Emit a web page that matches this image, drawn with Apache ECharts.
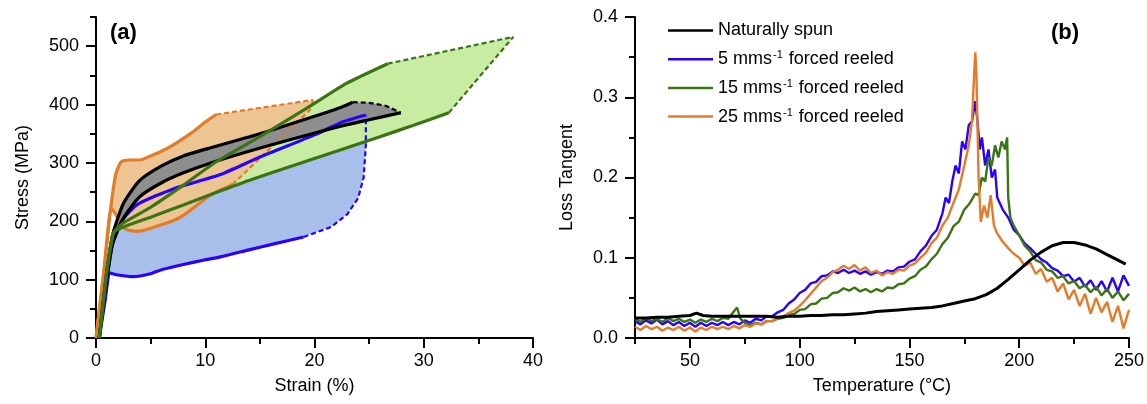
<!DOCTYPE html>
<html>
<head>
<meta charset="utf-8">
<script src="https://cdn.jsdelivr.net/npm/echarts@6/dist/echarts.min.js"></script>
<style>
  html, body { margin: 0; padding: 0; background: #fff; }
  #chart { width: 1147px; height: 404px; }
</style>
</head>
<body>
<div id="chart"></div>
<script>
// ---- panel (a): stress-strain envelopes, [strain %, stress MPa] ----
var blueLow = [[0.3, 0], [0.8, 60], [1.3, 111], [2, 108], [3.4, 105], [5, 110], [6, 117], [8, 126], [10, 134], [11.4, 139], [14, 151], [16, 160], [19, 173]];
var blueDash = [[19, 173], [21.5, 190], [23, 212], [24, 240], [24.5, 275], [24.7, 330], [24.7, 382]];
var blueUp = [[0.3, 0], [1, 100], [1.5, 160], [2.2, 195], [3, 215], [4, 231], [7, 255], [11.4, 280], [15, 310], [20, 348], [22.4, 369], [24.7, 382]];

var greenLow = [[0.3, 0], [1, 115], [1.6, 180], [2.5, 190], [5, 207], [8, 228], [10.5, 246], [14, 270], [18, 295], [22, 320], [26, 345], [29, 364], [32.3, 386]];
var greenDashLow = [[32.3, 386], [38.2, 516]];
var greenUp = [[0.3, 0], [1, 115], [1.6, 180], [2.5, 197], [5, 224], [8, 262], [11, 302], [15, 345], [20, 402], [23, 437], [26.7, 470]];
var greenDashUp = [[26.7, 470], [38.2, 516]];

var orangeLow = [[0, 0], [0.7, 110], [1.4, 222], [1.8, 212], [2.3, 195], [2.8, 186], [4, 183], [5, 188], [6.8, 199], [8, 210], [10.5, 245], [12.5, 263]];
var orangeDashLow = [[12.5, 263], [19.6, 391], [19.9, 408]];
var orangeUp = [[0, 0], [0.7, 110], [1.3, 215], [1.8, 280], [2.3, 302], [3, 305], [4, 305], [5, 312], [6, 320], [7, 330], [8, 342], [9, 355], [10, 370], [11, 383]];
var orangeDashUp = [[11, 383], [19.9, 408]];

var blackLow = [[0.3, 0], [0.9, 90], [1.5, 160], [2.5, 205], [4, 242], [6, 266], [8, 283], [10.5, 300], [14, 320], [18, 341], [22.4, 363], [25, 374], [27.9, 386]];
var blackUp = [[0.3, 0], [0.9, 100], [1.5, 175], [2.5, 230], [4, 270], [6, 295], [8, 312], [10.5, 326], [15, 350], [20, 380], [22.4, 395], [23.5, 404]];
var blackDash = [[23.5, 404], [25, 403], [26.5, 398], [27.9, 386]];

// ---- panel (b): loss tangent vs temperature, [°C, tan delta] ----
var natural = [[25, 0.025], [30, 0.025], [35, 0.026], [40, 0.026], [45, 0.027], [50, 0.028], [53, 0.031], [56, 0.028], [60, 0.027], [65, 0.027], [70, 0.027], [75, 0.027], [80, 0.027], [85, 0.027], [90, 0.026], [95, 0.027], [100, 0.027], [105, 0.028], [110, 0.028], [115, 0.029], [120, 0.029], [125, 0.030], [130, 0.031], [135, 0.033], [140, 0.034], [145, 0.035], [150, 0.036], [155, 0.037], [160, 0.038], [165, 0.040], [170, 0.043], [175, 0.046], [180, 0.049], [185, 0.054], [190, 0.062], [195, 0.073], [200, 0.085], [205, 0.097], [210, 0.107], [215, 0.115], [220, 0.119], [225, 0.119], [230, 0.116], [235, 0.111], [240, 0.104], [245, 0.097], [248.5, 0.092]];

var reeled5 = [[25, 0.021], [27.5, 0.017], [30, 0.022], [32.5, 0.018], [35, 0.023], [37.5, 0.017], [40, 0.021], [42.5, 0.016], [45, 0.020], [47.5, 0.015], [50, 0.019], [52.5, 0.014], [55, 0.019], [57.5, 0.015], [60, 0.019], [62.5, 0.016], [65, 0.020], [67.5, 0.016], [70, 0.020], [72.5, 0.017], [75, 0.022], [77.5, 0.019], [80, 0.024], [82.5, 0.022], [85, 0.027], [87.5, 0.027], [90, 0.032], [92.5, 0.035], [95, 0.043], [97.5, 0.048], [100, 0.056], [102.5, 0.060], [105, 0.068], [107.5, 0.070], [110, 0.077], [112.5, 0.078], [115, 0.083], [117.5, 0.081], [120, 0.085], [122.5, 0.081], [125, 0.084], [127.5, 0.080], [130, 0.083], [132.5, 0.079], [135, 0.082], [137.5, 0.080], [140, 0.084], [142.5, 0.083], [145, 0.088], [147.5, 0.089], [150, 0.095], [152.5, 0.098], [155, 0.108], [157.5, 0.115], [160, 0.127], [162.5, 0.135], [165, 0.155], [166.5, 0.175], [168, 0.168], [169.5, 0.195], [171, 0.215], [172.5, 0.205], [174, 0.245], [175.5, 0.235], [177, 0.265], [178.5, 0.270], [180, 0.295], [181, 0.270], [182, 0.235], [183, 0.250], [184.5, 0.215], [186, 0.235], [187.5, 0.200], [189, 0.210], [190, 0.175], [192.5, 0.160], [195, 0.150], [197.5, 0.135], [200, 0.128], [202.5, 0.118], [205, 0.112], [207.5, 0.105], [210, 0.098], [212.5, 0.094], [215, 0.087], [217.5, 0.084], [220, 0.077], [222.5, 0.079], [225, 0.070], [227.5, 0.075], [230, 0.064], [232.5, 0.072], [235, 0.060], [237.5, 0.071], [240, 0.058], [242.5, 0.075], [245, 0.058], [247.5, 0.078], [250, 0.065]];

var reeled15 = [[25, 0.024], [27.5, 0.020], [30, 0.025], [32.5, 0.021], [35, 0.024], [37.5, 0.020], [40, 0.025], [42.5, 0.021], [45, 0.024], [47.5, 0.020], [50, 0.023], [52.5, 0.019], [55, 0.023], [57.5, 0.020], [60, 0.024], [62.5, 0.021], [65, 0.025], [67.5, 0.024], [70, 0.033], [71.5, 0.038], [73, 0.024], [75, 0.019], [77.5, 0.016], [80, 0.019], [82.5, 0.017], [85, 0.021], [87.5, 0.021], [90, 0.024], [92.5, 0.025], [95, 0.029], [97.5, 0.030], [100, 0.035], [102.5, 0.036], [105, 0.042], [107.5, 0.043], [110, 0.049], [112.5, 0.050], [115, 0.056], [117.5, 0.057], [120, 0.062], [122.5, 0.059], [125, 0.063], [127.5, 0.058], [130, 0.061], [132.5, 0.057], [135, 0.061], [137.5, 0.058], [140, 0.063], [142.5, 0.062], [145, 0.067], [147.5, 0.068], [150, 0.074], [152.5, 0.077], [155, 0.085], [157.5, 0.089], [160, 0.098], [162.5, 0.105], [165, 0.117], [167.5, 0.125], [170, 0.139], [172.5, 0.145], [175, 0.160], [177.5, 0.168], [180, 0.180], [181.5, 0.178], [183, 0.200], [184.5, 0.195], [186, 0.225], [187.5, 0.215], [189, 0.240], [190.5, 0.225], [192, 0.245], [193.5, 0.235], [194.5, 0.250], [195, 0.175], [196, 0.150], [197.5, 0.140], [200, 0.128], [202.5, 0.115], [205, 0.108], [207.5, 0.097], [210, 0.094], [212.5, 0.085], [215, 0.083], [217.5, 0.075], [220, 0.077], [222.5, 0.068], [225, 0.071], [227.5, 0.062], [230, 0.066], [232.5, 0.057], [235, 0.064], [237.5, 0.053], [240, 0.061], [242.5, 0.050], [245, 0.058], [247.5, 0.047], [250, 0.055]];

var reeled25 = [[25, 0.014], [27.5, 0.010], [30, 0.015], [32.5, 0.011], [35, 0.014], [37.5, 0.009], [40, 0.013], [42.5, 0.010], [45, 0.014], [47.5, 0.009], [50, 0.013], [52.5, 0.008], [55, 0.013], [57.5, 0.010], [60, 0.014], [62.5, 0.011], [65, 0.014], [67.5, 0.011], [70, 0.015], [72.5, 0.012], [75, 0.016], [77.5, 0.014], [80, 0.018], [82.5, 0.017], [85, 0.021], [87.5, 0.021], [90, 0.025], [92.5, 0.027], [95, 0.031], [97.5, 0.034], [100, 0.040], [102.5, 0.047], [105, 0.055], [107.5, 0.063], [110, 0.071], [112.5, 0.075], [115, 0.082], [117.5, 0.085], [120, 0.090], [122.5, 0.086], [125, 0.091], [127.5, 0.084], [130, 0.088], [132.5, 0.081], [135, 0.084], [137.5, 0.078], [140, 0.082], [142.5, 0.080], [145, 0.085], [147.5, 0.084], [150, 0.090], [152.5, 0.093], [155, 0.100], [157.5, 0.106], [160, 0.118], [162.5, 0.125], [165, 0.140], [167.5, 0.150], [170, 0.168], [172.5, 0.185], [175, 0.215], [177, 0.240], [178.5, 0.270], [179.5, 0.330], [180, 0.356], [180.5, 0.330], [181.5, 0.200], [182.5, 0.145], [184, 0.165], [185.5, 0.150], [187, 0.178], [188.5, 0.140], [190, 0.130], [192.5, 0.120], [195, 0.112], [197.5, 0.105], [200, 0.100], [202.5, 0.090], [205, 0.094], [207.5, 0.080], [210, 0.086], [212.5, 0.070], [215, 0.075], [217.5, 0.058], [220, 0.068], [222.5, 0.048], [225, 0.060], [227.5, 0.040], [230, 0.055], [232.5, 0.030], [235, 0.050], [237.5, 0.032], [240, 0.045], [242.5, 0.020], [245, 0.040], [247.5, 0.012], [250, 0.035]];

// tick values
var strainTicks = [0, 10, 20, 30, 40];
var stressMajor = [0, 100, 200, 300, 400, 500];
var stressMinor = [50, 150, 250, 350, 450, 550];
var tempMajor = [50, 100, 150, 200, 250];
var tempMinor = [25, 75, 125, 175, 225];

var FONT = 'Liberation Sans, Arial, sans-serif';
var BLUE = '#2a00ff', GREEN = '#3b7414', ORANGE = '#e27c2a';

function polygon(lower, closing, upper) {
  return lower.concat(closing, upper.slice().reverse());
}

function fillSeries(poly, color) {
  return {
    type: 'custom',
    xAxisIndex: 0,
    yAxisIndex: 0,
    silent: true,
    data: [poly[0]],
    renderItem: function (params, api) {
      var pts = poly.map(function (p) { return api.coord(p); });
      return {
        type: 'polygon',
        shape: { points: pts },
        style: { fill: color }
      };
    }
  };
}

function curve(data, color, dashed) {
  return {
    type: 'line',
    xAxisIndex: 0,
    yAxisIndex: 0,
    data: data,
    symbol: 'none',
    smooth: dashed ? false : 0.2,
    silent: true,
    lineStyle: {
      color: color,
      width: dashed ? 2.2 : 3.2,
      type: dashed ? [5, 3] : 'solid'
    }
  };
}

function tanLine(name, data, color, w) {
  return {
    name: name,
    type: 'line',
    xAxisIndex: 1,
    yAxisIndex: 2,
    data: data,
    symbol: 'none',
    lineStyle: { color: color, width: w || 2.4 },
    itemStyle: { color: color }
  };
}

var axisBase = {
  axisLine: { lineStyle: { color: '#000', width: 2 } },
  axisTick: { length: 10, lineStyle: { color: '#000', width: 2 } },
  axisLabel: { color: '#000', fontSize: 18, fontFamily: FONT },
  splitLine: { show: false },
  nameTextStyle: { color: '#000', fontSize: 18, fontFamily: FONT },
  nameLocation: 'middle'
};

function merge(a, b) {
  var o = JSON.parse(JSON.stringify(a));
  for (var k in b) {
    if (o[k] && typeof o[k] === 'object' && !Array.isArray(o[k]) && typeof b[k] === 'object' && !Array.isArray(b[k])) {
      o[k] = Object.assign(o[k], b[k]);
    } else {
      o[k] = b[k];
    }
  }
  return o;
}

var chart = echarts.init(document.getElementById('chart'), null, { renderer: 'canvas' });

var option = {
  animation: false,
  textStyle: { fontFamily: FONT },
  title: [
    { text: '(a)', left: 110, top: 22, padding: 0, textStyle: { fontSize: 22, fontWeight: 'bold', color: '#000', fontFamily: FONT } },
    { text: '(b)', left: 1051, top: 22, padding: 0, textStyle: { fontSize: 22, fontWeight: 'bold', color: '#000', fontFamily: FONT } }
  ],
  legend: {
    data: ['Naturally spun', '5 mms-1 forced reeled', '15 mms-1 forced reeled', '25 mms-1 forced reeled'],
    orient: 'vertical',
    left: 668,
    top: 21,
    padding: 0,
    icon: 'rect',
    itemWidth: 45,
    itemHeight: 2.5,
    itemGap: 9.7,
    formatter: function (name) {
      return name.replace('-1', '{sup|-1}');
    },
    textStyle: {
      color: '#000',
      fontSize: 18,
      lineHeight: 19,
      fontFamily: FONT,
      rich: {
        sup: { fontSize: 11, verticalAlign: 'top', lineHeight: 11, padding: [0, 1, 0, 1] }
      }
    }
  },
  grid: [
    { left: 96, right: 614, top: 17, bottom: 66 },
    { left: 635, right: 15, top: 17, bottom: 66 }
  ],
  xAxis: [
    merge(axisBase, {
      type: 'value', gridIndex: 0, min: 0, max: 40, interval: 10,
      minorTick: { show: true, splitNumber: 2, length: 6, lineStyle: { color: '#000', width: 2 } },
      axisLabel: { color: '#000', fontSize: 18, fontFamily: FONT, margin: 14, customValues: strainTicks },
      name: 'Strain (%)', nameGap: 39
    }),
    merge(axisBase, {
      type: 'value', gridIndex: 1, min: 25, max: 250,
      axisTick: { length: 10, lineStyle: { color: '#000', width: 2 }, customValues: tempMajor },
      axisLabel: { color: '#000', fontSize: 18, fontFamily: FONT, margin: 14, customValues: tempMajor },
      name: 'Temperature (°C)', nameGap: 39
    }),
    {
      type: 'value', gridIndex: 1, min: 25, max: 250, position: 'bottom',
      axisLine: { show: false },
      axisLabel: { show: false },
      splitLine: { show: false },
      axisTick: { length: 6, lineStyle: { color: '#000', width: 2 }, customValues: tempMinor }
    }
  ],
  yAxis: [
    merge(axisBase, {
      type: 'value', gridIndex: 0, min: 0, max: 550,
      axisTick: { length: 10, lineStyle: { color: '#000', width: 2 }, customValues: stressMajor },
      axisLabel: { color: '#000', fontSize: 18, fontFamily: FONT, margin: 17, customValues: stressMajor },
      name: 'Stress (MPa)', nameGap: 64
    }),
    {
      type: 'value', gridIndex: 0, min: 0, max: 550, position: 'left',
      axisLine: { show: false },
      axisLabel: { show: false },
      splitLine: { show: false },
      axisTick: { length: 6, lineStyle: { color: '#000', width: 2 }, customValues: stressMinor }
    },
    merge(axisBase, {
      type: 'value', gridIndex: 1, min: 0, max: 0.4, interval: 0.1,
      minorTick: { show: true, splitNumber: 2, length: 6, lineStyle: { color: '#000', width: 2 } },
      axisLabel: {
        color: '#000', fontSize: 18, fontFamily: FONT, margin: 17,
        formatter: function (v) { return v.toFixed(1); }
      },
      name: 'Loss Tangent', nameGap: 59
    })
  ],
  series: [
    // fills, bottom to top
    fillSeries(polygon(blueLow, blueDash, blueUp), '#a8bfea'),
    fillSeries(polygon(greenLow, greenDashLow, greenUp), '#c8eca2'),
    fillSeries(polygon(orangeLow, orangeDashLow, orangeUp), '#ecc592'),
    fillSeries(polygon(blackLow, blackDash, blackUp), '#8e8e8e'),
    // outlines
    curve(orangeLow, ORANGE), curve(orangeUp, ORANGE),
    curve(orangeDashLow, ORANGE, true), curve(orangeDashUp, ORANGE, true),
    curve(blueLow, BLUE), curve(blueUp, BLUE), curve(blueDash, BLUE, true),
    curve(blackLow, '#000'), curve(blackUp, '#000'), curve(blackDash, '#000', true),
    curve(greenLow, GREEN), curve(greenUp, GREEN),
    curve(greenDashLow, GREEN, true), curve(greenDashUp, GREEN, true),
    // panel (b)
    tanLine('5 mms-1 forced reeled', reeled5, BLUE),
    tanLine('15 mms-1 forced reeled', reeled15, GREEN),
    tanLine('25 mms-1 forced reeled', reeled25, ORANGE),
    tanLine('Naturally spun', natural, '#000', 3)
  ]
};

chart.setOption(option);
</script>
</body>
</html>
